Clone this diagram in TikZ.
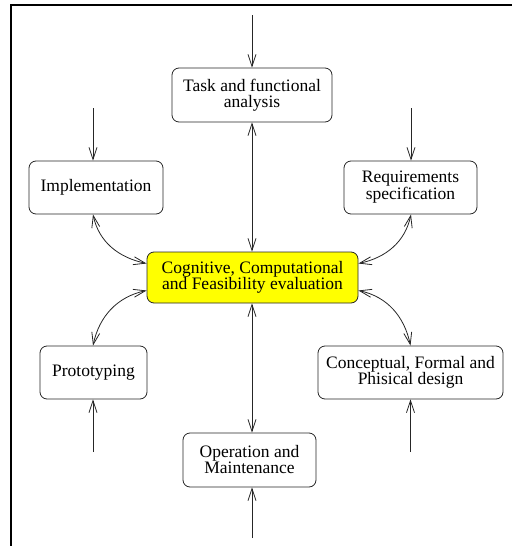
\documentclass[tikz,border=0pt]{standalone}
\usepackage{fontspec}
\setmainfont{Liberation Serif}
\usetikzlibrary{arrows.meta}
\definecolor{hiyellow}{RGB}{255,255,0}
\tikzset{
  box/.style={draw=black!85, line width=0.8pt, rounded corners=7pt, align=center,
    inner sep=0pt, font=\fontsize{17.5}{16}\selectfont},
  conn/.style={draw=black!85, line width=0.8pt, -{Straight Barb[length=12pt,width=8pt]}},
  conn2/.style={draw=black!85, line width=0.8pt, {Straight Barb[length=12pt,width=8pt]}-{Straight Barb[length=12pt,width=8pt]}},
  frame/.style={line width=2pt, black}
}
\begin{document}
\begin{tikzpicture}[x=1pt,y=-1pt]
\useasboundingbox (0,0) rectangle (512,546);
\draw[frame] (11,546) -- (11,5) -- (512,5);

\node[box, minimum width=160pt, minimum height=54pt] (task) at (252,95) {Task and functional\\analysis};
\node[box, minimum width=134pt, minimum height=53pt] (impl) at (96,187.5) {Implementation};
\node[box, minimum width=133pt, minimum height=53pt] (req) at (410.5,187.5) {Requirements\\specification};
\node[box, fill=hiyellow, minimum width=211pt, minimum height=51pt] (ctr) at (252.5,277.5) {Cognitive, Computational\\and Feasibility evaluation};
\node[box, minimum width=107pt, minimum height=53pt] (proto) at (93.5,372.5) {Prototyping};
\node[box, minimum width=185pt, minimum height=53pt] (conc) at (410.5,372.5) {Conceptual, Formal and\\Phisical design};
\node[box, minimum width=133pt, minimum height=54pt] (oper) at (249.5,460) {Operation and\\Maintenance};

\coordinate (inTask) at (252,15);
\coordinate (inImpl) at (93,108);
\coordinate (inReq) at (411,108);
\coordinate (inProto) at (93,452);
\coordinate (inConc) at (410.5,452);
\coordinate (inOper) at (252,538);

\draw[conn] (inTask) -- (task.north);
\draw[conn] (inImpl) -- (inImpl |- impl.north);
\draw[conn] (inReq) -- (inReq |- req.north);
\draw[conn] (inProto) -- (inProto |- proto.south);
\draw[conn] (inConc) -- (conc.south);
\draw[conn] (inOper) -- (inOper |- oper.south);

\draw[conn2] (task.south) -- (task.south |- ctr.north);
\draw[conn2] (ctr.south -| inOper) -- (oper.north -| inOper);

\draw[conn2] (inImpl |- impl.south) to[out=-78,in=168] ([yshift=14pt]ctr.west);
\draw[conn2] ([yshift=-13pt]ctr.west) to[out=192,in=78] (inProto |- proto.north);
\draw[conn2] (inReq |- req.south) to[out=-102,in=12] ([yshift=14pt]ctr.east);
\draw[conn2] ([yshift=-13pt]ctr.east) to[out=-12,in=102] (conc.north);
\end{tikzpicture}
\end{document}
